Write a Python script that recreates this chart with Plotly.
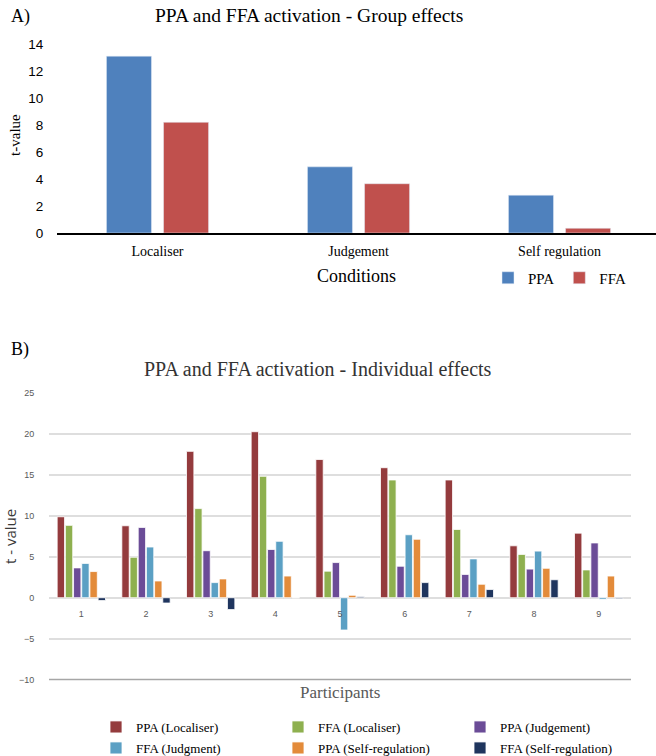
import plotly.graph_objects as go

# ---------- Panel A data ----------
conditions = ["Localiser", "Judgement", "Self regulation"]
ppa_group = [13.1, 4.9, 2.8]
ffa_group = [8.2, 3.65, 0.35]

# ---------- Panel B data ----------
participants = [1, 2, 3, 4, 5, 6, 7, 8, 9]
ppa_localiser = [9.9, 8.8, 17.9, 20.3, 16.9, 15.9, 14.4, 6.35, 7.9]
ffa_localiser = [8.85, 4.95, 10.9, 14.85, 3.25, 14.4, 8.35, 5.3, 3.4]
ppa_judgement = [3.65, 8.6, 5.75, 5.9, 4.3, 3.85, 2.85, 3.5, 6.7]
ffa_judgment = [4.2, 6.2, 1.85, 6.9, -3.95, 7.7, 4.75, 5.7, -0.2]
ppa_selfreg = [3.2, 2.05, 2.3, 2.65, 0.3, 7.15, 1.65, 3.6, 2.65]
ffa_selfreg = [-0.35, -0.65, -1.45, 0.0, 0.15, 1.85, 1.0, 2.2, -0.12]

SERIF = "Liberation Serif"
SANS = "Liberation Sans"
W, H = 656, 756

fig = go.Figure()

# Panel A bars (explicit offset/width so they are independent of panel B grouping)
fig.add_trace(go.Bar(x=list(range(len(conditions))), y=ppa_group, name="PPA",
                     marker=dict(color="#4F81BD"), offset=-0.254, width=0.224,
                     xaxis="x", yaxis="y", legend="legend"))
fig.add_trace(go.Bar(x=list(range(len(conditions))), y=ffa_group, name="FFA",
                     marker=dict(color="#C0504D"), offset=0.030, width=0.224,
                     xaxis="x", yaxis="y", legend="legend"))

# Panel B bars
series_b = [
    ("PPA (Localiser)", ppa_localiser, "#943B3D", "legend2"),
    ("FFA (Localiser)", ffa_localiser, "#8EB04F", "legend2"),
    ("PPA (Judgement)", ppa_judgement, "#6B4C97", "legend2"),
    ("FFA (Judgment)", ffa_judgment, "#5BA0C4", "legend3"),
    ("PPA (Self-regulation)", ppa_selfreg, "#E38B3A", "legend3"),
    ("FFA (Self-regulation)", ffa_selfreg, "#1F355E", "legend3"),
]
for name, vals, col, lg in series_b:
    fig.add_trace(go.Bar(x=participants, y=vals, name=name,
                         marker=dict(color=col, line=dict(color="white", width=0.8)),
                         xaxis="x2", yaxis="y2", legend=lg))

fig.update_layout(
    width=W, height=H,
    margin=dict(l=0, r=0, t=0, b=0, autoexpand=False),
    paper_bgcolor="white", plot_bgcolor="white",
    barmode="group", bargap=0.24, bargroupgap=0.1,
    font=dict(family=SERIF, color="black"),
    # Panel A axes
    xaxis=dict(domain=[57/W, 1.0], anchor="y", range=[-0.5, 2.48],
               tickmode="array", tickvals=list(range(len(conditions))), ticktext=conditions,
               tickfont=dict(family=SERIF, size=14, color="black"),
               showline=True, linecolor="black", linewidth=1.5,
               ticks="outside", ticklen=4, tickcolor="rgba(0,0,0,0)",
               showgrid=False, zeroline=False, automargin=False,
               title=dict(text="Conditions", font=dict(family=SERIF, size=18, color="black"), standoff=12)),
    yaxis=dict(domain=[1 - 233/H, 1 - 37.25/H], anchor="x", range=[0, 14.5],
               tickmode="linear", tick0=0, dtick=2,
               tickfont=dict(family=SANS, size=13.5, color="black"),
               ticks="outside", ticklen=10, tickcolor="rgba(0,0,0,0)",
               showgrid=False, zeroline=False, showline=False, automargin=False,
               title=dict(text="t-value", font=dict(family=SERIF, size=15, color="black"), standoff=4)),
    # Panel B axes (category labels sit at the zero line)
    xaxis2=dict(domain=[49/W, 631/W], anchor="free", position=1 - 597.7/H, range=[0.5, 9.5],
                tickmode="array", tickvals=participants, ticktext=[str(p) for p in participants],
                tickfont=dict(family=SANS, size=9, color="#595959"),
                ticks="outside", ticklen=7, tickcolor="rgba(0,0,0,0)",
                showline=False, showgrid=False, zeroline=False, automargin=False),
    yaxis2=dict(domain=[1 - 679.5/H, 1 - 393.3/H], anchor="x2", range=[-10, 25],
                tickmode="linear", tick0=-10, dtick=5,
                tickfont=dict(family=SANS, size=9, color="#595959"),
                ticks="outside", ticklen=12, tickcolor="rgba(0,0,0,0)",
                showgrid=True, gridcolor="#dedede", gridwidth=1.5,
                zeroline=True, zerolinecolor="#dedede", zerolinewidth=1.5,
                showline=False, automargin=False,
                title=dict(text="t - value", font=dict(family="Open Sans", size=15, color="#3a3a3a"), standoff=4)),
    legend=dict(orientation="h", x=488/W, y=1 - 278/H, xanchor="left", yanchor="middle",
                font=dict(family=SERIF, size=15, color="black"),
                itemwidth=30, bgcolor="rgba(0,0,0,0)"),
    legend2=dict(orientation="h", x=96/W, y=1 - 727/H, xanchor="left", yanchor="middle",
                 font=dict(family=SERIF, size=13, color="black"),
                 entrywidth=137, entrywidthmode="pixels", itemwidth=30, bgcolor="rgba(0,0,0,0)"),
    legend3=dict(orientation="h", x=96/W, y=1 - 748/H, xanchor="left", yanchor="middle",
                 font=dict(family=SERIF, size=13, color="black"),
                 entrywidth=137, entrywidthmode="pixels", itemwidth=30, bgcolor="rgba(0,0,0,0)"),
    shapes=[
        # darker bottom border of panel B plot area
        dict(type="line", xref="x2 domain", yref="y2 domain", x0=0, x1=1, y0=0, y1=0,
             line=dict(color="#a6a6a6", width=1.5)),
    ],
    annotations=[
        dict(text="A)", x=9/W, y=1 - 16/H, xref="paper", yref="paper", xanchor="left",
             yanchor="middle", showarrow=False, font=dict(family=SERIF, size=18, color="black")),
        dict(text="PPA and FFA activation - Group effects", x=309/W, y=1 - 15/H,
             xref="paper", yref="paper", xanchor="center", yanchor="middle", showarrow=False,
             font=dict(family=SERIF, size=19.5, color="black")),
        dict(text="B)", x=9/W, y=1 - 349/H, xref="paper", yref="paper", xanchor="left",
             yanchor="middle", showarrow=False, font=dict(family=SERIF, size=18, color="black")),
        dict(text="PPA and FFA activation - Individual effects", x=318/W, y=1 - 369/H,
             xref="paper", yref="paper", xanchor="center", yanchor="middle", showarrow=False,
             font=dict(family=SERIF, size=20, color="#333333")),
        dict(text="Participants", x=340/W, y=1 - 692/H, xref="paper", yref="paper",
             xanchor="center", yanchor="middle", showarrow=False,
             font=dict(family=SERIF, size=17, color="#595959")),
    ],
)

fig.write_html("out.html", config={"displayModeBar": False},
               post_script="document.body.style.margin='0';document.body.style.overflow='hidden';")
